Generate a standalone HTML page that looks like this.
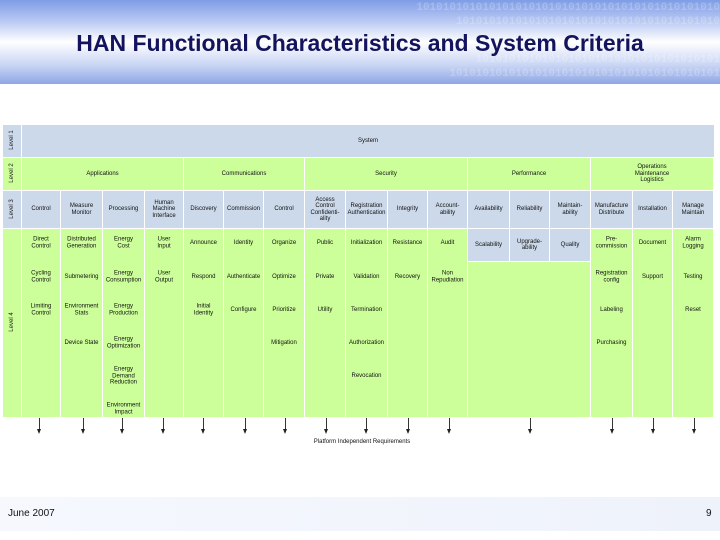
<!DOCTYPE html>
<html><head><meta charset="utf-8">
<style>
body{margin:0;width:720px;height:540px;position:relative;overflow:hidden;background:#fff;font-family:"Liberation Sans",sans-serif;}
#hdr{position:absolute;left:0;top:0;width:720px;height:84px;background:linear-gradient(180deg,#7f9de6 0%,#b8c8f2 25%,#ffffff 50%,#c8d4f4 78%,#8ea6e4 100%);overflow:hidden}
#hdr .bin{position:absolute;right:0;font:bold 11px "Liberation Mono",monospace;color:rgba(255,255,255,0.22);white-space:nowrap;letter-spacing:0px}
#title{position:absolute;left:0;width:720px;top:30px;text-align:center;font-weight:bold;font-size:23px;color:#14145e}
#ftr{position:absolute;left:0;top:497px;width:720px;height:34px;background:linear-gradient(90deg,#f6f8fe,#eef2fb)}
.c{position:absolute;display:flex;align-items:center;justify-content:center;text-align:center;font-size:6px;line-height:6.5px;color:#111;box-sizing:border-box}
.t{position:absolute;text-align:center;font-size:6px;line-height:6.5px;color:#111;transform:translate(-50%,-50%);white-space:nowrap}
.lv{position:absolute;font-size:6px;color:#222;transform:rotate(-90deg);white-space:nowrap}
</style></head><body>
<div id="hdr">
<div class="bin" style="top:2px">1010101010101010101010101010101010101010101010</div>
<div class="bin" style="top:16px">1010101010101010101010101010101010101010</div>
<div class="bin" style="top:54px">1010101010101010101010101010101010101</div>
<div class="bin" style="top:68px">10101010101010101010101010101010101010101</div>
<div id="title">HAN Functional Characteristics and System Criteria</div>
</div>
<div id="diag"></div>
<div id="ftr"></div>
<div style="position:absolute;left:8px;top:508px;font-size:10px;color:#111">June 2007</div>
<div style="position:absolute;left:706px;top:508px;font-size:10px;color:#111">9</div>
<script>
const BLUE='#ccd9ea',GREEN='#ccff99';
const colX=[22,61,103,145,184,224,264,305,346,388,428,468,510,550,591,633,673,714];
const level2=[["Applications",0,4],["Communications",4,7],["Security",7,11],["Performance",11,14],["Operations\nMaintenance\nLogistics",14,17]];
const level3=["Control","Measure\nMonitor","Processing","Human\nMachine\nInterface","Discovery","Commission","Control","Access\nControl\nConfidenti-\nality","Registration\nAuthentication","Integrity","Account-\nability","Availability","Reliability","Maintain-\nability","Manufacture\nDistribute","Installation","Manage\nMaintain"];
const level4=[["Direct\nControl","Cycling\nControl","Limiting\nControl"],["Distributed\nGeneration","Submetering","Environment\nStats","Device State"],["Energy\nCost","Energy\nConsumption","Energy\nProduction","Energy\nOptimization","Energy\nDemand\nReduction","Environment\nImpact"],["User\nInput","User\nOutput"],["Announce","Respond","Initial\nIdentity"],["Identity","Authenticate","Configure"],["Organize","Optimize","Prioritize","Mitigation"],["Public","Private","Utility"],["Initialization","Validation","Termination","Authorization","Revocation"],["Resistance","Recovery"],["Audit","Non\nRepudiation"],["Scalability"],["Upgrade-\nability"],["Quality"],["Pre-\ncommission","Registration\nconfig","Labeling","Purchasing"],["Document","Support"],["Alarm\nLogging","Testing","Reset"]];
const arrowX=[39,83,122,163,203,245,285,326,366,408,449,530,612,653,694];
const d=document.getElementById('diag');
function cell(x,y,w,h,bg,txt,name){const e=document.createElement('div');e.className='c';
e.style.cssText=`left:${x}px;top:${y}px;width:${w}px;height:${h}px;background:${bg}`;
e.innerHTML=(txt||'').replace(/\n/g,'<br>');


d.appendChild(e);return e;}
function txt(x,y,s,name){const e=document.createElement('div');e.className='t';e.style.left=x+'px';e.style.top=y+'px';e.innerHTML=s.replace(/\n/g,'<br>');


d.appendChild(e);}
const rows=[[125,157,BLUE,'Level 1'],[158,190,GREEN,'Level 2'],[191,228,BLUE,'Level 3'],[229,417,GREEN,'Level 4']];
rows.forEach((r,i)=>{cell(3,r[0],18,r[1]-r[0],r[2],'','level-label-cell');
const l=document.createElement('div');l.className='lv';l.textContent=r[3];l.style.left='0px';l.style.top=((r[0]+r[1])/2-4)+'px';l.style.width='24px';l.style.textAlign='center';


d.appendChild(l);});
cell(22,125,692,32,BLUE,'System','level1-system');
level2.forEach(a=>cell(colX[a[1]],158,colX[a[2]]-colX[a[1]]-1,32,GREEN,a[0],'level2-cell'));
level3.forEach((s,i)=>cell(colX[i],191,colX[i+1]-colX[i]-1,37,BLUE,s,'level3-cell'));
const rowY=[243,277,310,343,376,409];
level4.forEach((items,i)=>{const x=colX[i],w=colX[i+1]-x-1;
if(i>=11&&i<=13){cell(x,229,w,32,BLUE,items[0],'level4-cell');}
else{cell(x,229,w,188,GREEN,'','level4-column');items.forEach((s,k)=>txt(x+w/2,rowY[k],s,'level4-item'));}});
cell(468,262,122,155,GREEN,'','performance-merged');
arrowX.forEach(x=>{const l=document.createElement('div');l.style.cssText=`position:absolute;left:${x}px;top:418px;width:1px;height:12px;background:#333`;


d.appendChild(l);
const h=document.createElement('div');h.style.cssText=`position:absolute;left:${x-2}px;top:429px;width:0;height:0;border-left:2.5px solid transparent;border-right:2.5px solid transparent;border-top:5px solid #222`;


d.appendChild(h);});
txt(362,442,'Platform Independent Requirements','platform-label');
</script>
</body></html>
